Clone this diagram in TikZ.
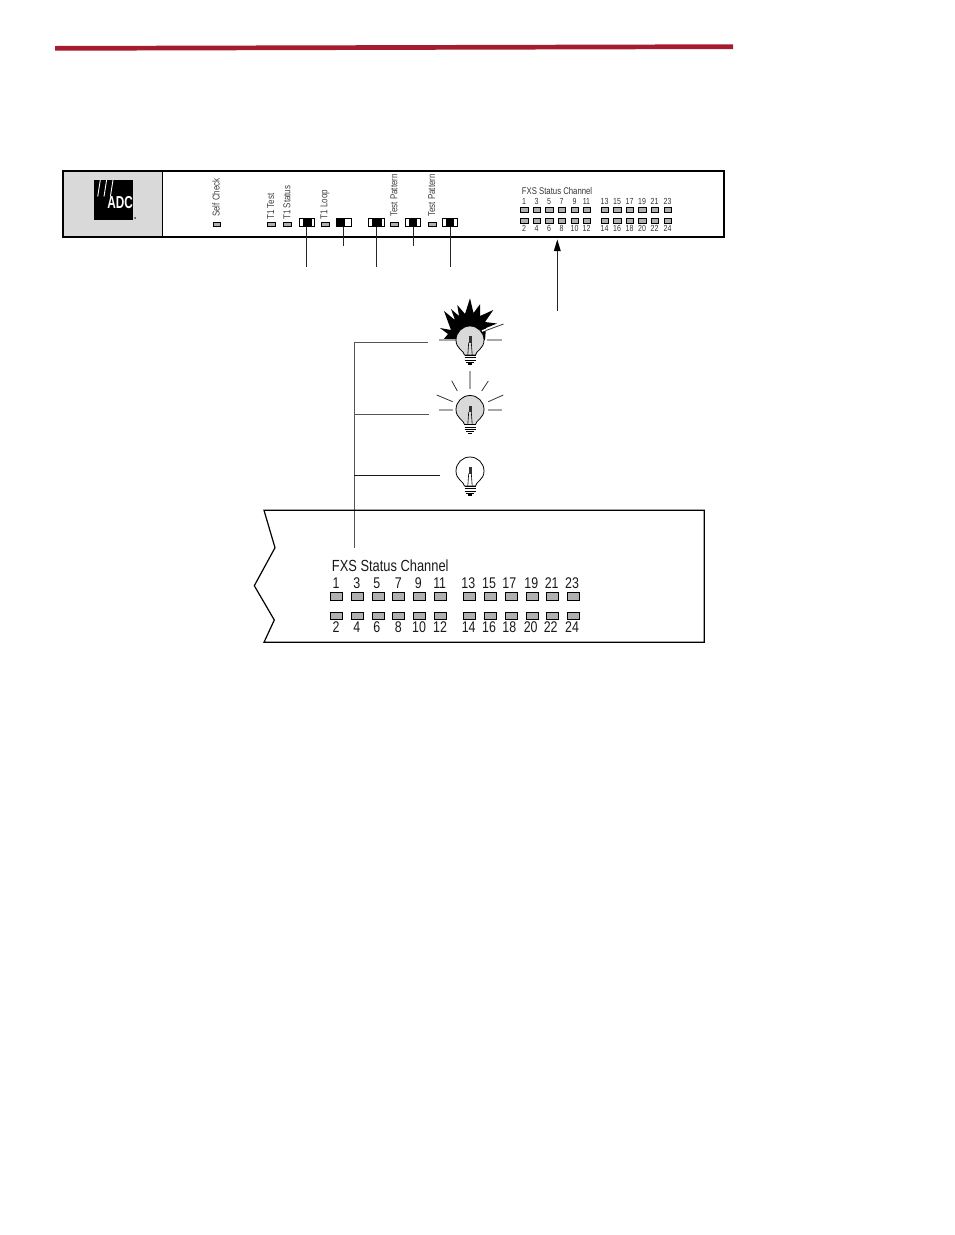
\documentclass[tikz,border=0pt]{standalone}
\usepackage{fontspec}
\setmainfont[FakeStretch=0.8]{Liberation Sans}
\newfontfamily\logofont[FakeStretch=0.68]{Liberation Sans}
\definecolor{ledgray}{HTML}{B0B0B0}
\definecolor{panelgray}{HTML}{D9D9D9}
\definecolor{rulered}{HTML}{A51C2E}
\definecolor{linegray}{HTML}{555555}
\definecolor{raygray}{HTML}{A8A8A8}
\tikzset{
  smallled/.style={draw=black,fill=ledgray,line width=.8pt,inner sep=0pt,minimum width=7.5pt,minimum height=4.5pt},
  fxsled/.style={draw=black,fill=ledgray,line width=.8pt,inner sep=0pt,minimum width=7.5pt,minimum height=5pt},
  bigled/.style={draw=black,fill=ledgray,line width=.9pt,inner sep=0pt,minimum width=12pt,minimum height=7.5pt},
  switchbox/.style={draw=black,fill=white,line width=.9pt,inner sep=0pt,minimum width=15.5pt,minimum height=8.5pt},
  vlabel/.style={rotate=90,anchor=west,inner sep=0pt,font=\fontsize{10}{12}\selectfont,text=black!75},
  tinylabel/.style={inner sep=0pt,font=\fontsize{8.8}{10}\selectfont,text=black!80},
  tinytitle/.style={inner sep=0pt,font=\fontsize{9.7}{11}\selectfont,text=black!80},
  biglabel/.style={inner sep=0pt,font=\fontsize{15.5}{18}\selectfont,text=black!90},
  bigtitlestyle/.style={inner sep=0pt,font=\fontsize{16.1}{18}\selectfont,text=black!90},
  leader/.style={line width=.8pt,draw=black!85},
  callout/.style={line width=.9pt,draw=linegray},
  ray/.style={line width=.8pt,draw=black!80},
  grayray/.style={line width=1.1pt,draw=raygray},
}
\newcommand{\bulbshape}[4]{%
  % #1 x, #2 y, #3 fill, #4 name
  \begin{scope}[shift={(#1,#2)}]
    \draw[line width=.8pt,fill=#3] (-5.5,15) .. controls (-6,10.5) and (-14,9) .. (-14,0)
       arc[start angle=180,end angle=360,radius=14]
       .. controls (14,9) and (6,10.5) .. (5.5,15) -- cycle;
    \fill[black!80] (-1.5,-4) rectangle (1.5,2.5);
    \draw[line width=.6pt] (-1.3,2.5) -- (-2.2,15) (1.3,2.5) -- (2.2,15);
    \fill[white] (-5.5,15) rectangle (5.5,24);
    \draw[line width=.9pt] (-5.5,15) -- (5.5,15) (-5.5,17.5) -- (5.5,17.5) (-5.5,20) -- (5.5,20) (-4,22.3) -- (4,22.3);
    \draw[line width=1.3pt] (-2,24) -- (2,24);
    \coordinate (#4) at (0,0);
  \end{scope}}
\begin{document}
\begin{tikzpicture}[x=1pt,y=-1pt]
\useasboundingbox (0,0) rectangle (954,1235);
% top rule
\fill[rulered] (55,46) -- (733,44.3) -- (733,49) -- (55,50.7) -- cycle;
% front panel
\fill[panelgray] (63,171) rectangle (162.5,236.7);
\draw[line width=1.8pt] (63,171) rectangle (724,236.7);
\draw[line width=1pt] (162.5,171) -- (162.5,236.7);
% logo
\node[fill=black,minimum width=38.7pt,minimum height=40pt,inner sep=0pt] (logo) at (113.4,200) {};
\draw[white,line width=.9pt] (100.3,180) -- (97.7,196.5) (106.6,180) -- (104,196.5) (113,180) -- (110.4,196.5);
\node[inner sep=0pt,text=white,font=\logofont\fontsize{17.3}{18}\bfseries\selectfont] (logotext) at (120.2,203) {ADC};
\node[circle,fill=black!80,inner sep=0pt,minimum size=2pt] (reg) at (135.2,218) {};
% panel LEDs
\node[smallled] (selfcheck) at (216.7,224.3) {};
\node[smallled] (tonetest) at (271.3,224.3) {};
\node[smallled] (tonestatus) at (287.5,224.3) {};
\node[smallled] (toneloop) at (325.3,224.3) {};
\node[smallled] (patterna) at (394.2,224.3) {};
\node[smallled] (patternb) at (432.2,224.3) {};
\node[vlabel] at (216,217) {Self Check};
\node[vlabel] at (270.7,220) {T1 Test};
\node[vlabel] at (287,220) {T1 Status};
\node[vlabel] at (325,219.5) {T1 Loop};
\node[vlabel] at (394,217) {Test Pattern};
\node[vlabel] at (431.7,217) {Test Pattern};
% switches
\node[switchbox] (swa) at (307,222.2) {};
\fill (303,217.7) rectangle (311.5,226.7);
\node[switchbox] (swb) at (343.8,222.2) {};
\fill (336,217.7) rectangle (344.5,226.7);
\node[switchbox] (swc) at (376.3,222.2) {};
\fill (372,217.7) rectangle (381.5,226.7);
\node[switchbox] (swd) at (412.8,222.2) {};
\fill (409,217.7) rectangle (417,226.7);
\node[switchbox] (swe) at (450,222.2) {};
\fill (446,217.7) rectangle (454.3,226.7);
\coordinate (enda) at (306.3,267);
\coordinate (endb) at (343.3,246);
\coordinate (endc) at (376,267);
\coordinate (endd) at (413.3,246);
\coordinate (ende) at (450.3,267);
\coordinate (starta) at (306.3,227);
\coordinate (startb) at (343.3,227);
\coordinate (startc) at (376,227);
\coordinate (startd) at (413.3,227);
\coordinate (starte) at (450.3,227);
\draw[leader] (starta) -- (enda);
\draw[leader] (startb) -- (endb);
\draw[leader] (startc) -- (endc);
\draw[leader] (startd) -- (endd);
\draw[leader] (starte) -- (ende);
% panel FXS group
\node[tinytitle,anchor=west] (fxstitle) at (521.7,190.7) {FXS Status Channel};
\foreach \x/\t/\b/\i in {524.5/1/2/1,537/3/4/2,549.5/5/6/3,562/7/8/4,575/9/10/5,587/11/12/6,605/13/14/7,617.5/15/16/8,630/17/18/9,642.5/19/20/10,655/21/22/11,668/23/24/12}{
  \node[fxsled] (pt\i) at (\x,209.8) {};
  \node[fxsled] (pb\i) at (\x,220.8) {};
  \node[tinylabel] at (\x-.5,201.5) {\t};
  \node[tinylabel] at (\x-.5,228) {\b};
}
\coordinate (arrowtip) at (557.3,239.5);
\coordinate (arrowtail) at (557.3,311);
\draw[leader] (arrowtail) -- (557.3,248);
\fill (arrowtip) -- (560.8,251) -- (553.8,251) -- cycle;
% bursting bulb
\fill[black] (443,340) -- (448,334) -- (440,328) -- (451,330) -- (444,311) -- (455,320) -- (451,309) -- (459,316)
  -- (457.3,305) -- (465,314) -- (470,298.3) -- (473.5,313) -- (480,304.3) -- (480,316)
  -- (493.3,310) -- (485,322) -- (497,323.5) -- (486,328) -- (485,340) -- cycle;
\draw[white,line width=1.6pt] (482,331) -- (504,323);
\draw[ray] (486,330.5) -- (503.5,324);
\draw[grayray] (438.5,340) -- (456,340);
\draw[grayray] (487,340) -- (502,340);
\bulbshape{470}{340}{panelgray}{bulbflash}
% blinking bulb
\draw[grayray] (470,371) -- (470,389);
\draw[ray] (451.7,380.7) -- (457.3,391);
\draw[ray] (488.3,381) -- (481.7,391);
\draw[ray] (436.7,395) -- (452.7,401.7);
\draw[ray] (488.3,401.7) -- (503.3,395);
\draw[grayray] (438.7,410) -- (453,410);
\draw[grayray] (488,410) -- (502,410);
\bulbshape{470}{409.5}{panelgray}{bulbblink}
% off bulb
\bulbshape{470}{471}{white}{bulboff}
% callouts
\coordinate (trunktop) at (354.3,342);
\coordinate (trunkbot) at (354.3,547.7);
\coordinate (tapa) at (354.3,414);
\coordinate (tapb) at (354.3,475);
\coordinate (enda2) at (428,342);
\coordinate (endb2) at (429,414);
\coordinate (endc2) at (440,475);
\draw[callout] (trunktop) -- (trunkbot);
\draw[callout] (trunktop) -- (enda2);
\draw[callout] (tapa) -- (endb2);
\draw[callout,draw=black!90] (tapb) -- (endc2);
% enlarged box
\draw[line width=1.2pt,line join=miter] (264,510.3) -- (704.3,510.3) -- (704.3,642.3) -- (264,642.3)
  -- (274.3,620) -- (254.3,585.7) -- (275,547.7) -- cycle;
\node[bigtitlestyle,anchor=west] (bigtitle) at (331.7,565.7) {FXS Status Channel};
\foreach \x/\tx/\bx/\t/\b/\i in {336.3/336/336/1/2/1,357.2/356.7/356.7/3/4/2,378/376.7/376.7/5/6/3,398.7/398.3/398.3/7/8/4,419.5/418.3/419/9/10/5,440.2/439.7/440/11/12/6,469.3/468.3/468.7/13/14/7,490.3/489/489/15/16/8,511.2/509.3/509.3/17/18/9,532.2/531.3/530.7/19/20/10,552.8/551.7/550.7/21/22/11,573.5/572/572/23/24/12}{
  \node[bigled] (bt\i) at (\x,596.5) {};
  \node[bigled] (bb\i) at (\x,615.7) {};
  \node[biglabel] at (\tx,583) {\t};
  \node[biglabel] at (\bx,627) {\b};
}
\end{tikzpicture}
\end{document}
